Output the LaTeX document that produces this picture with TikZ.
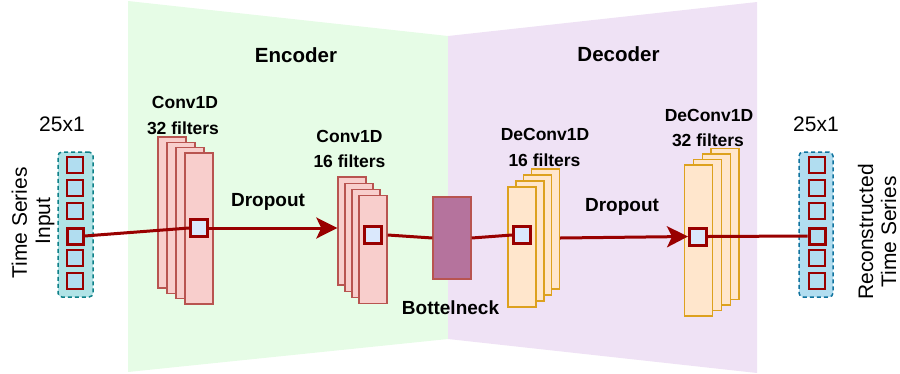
\documentclass[tikz,border=0pt]{standalone}
\usepackage{fontspec}
\setmainfont{Liberation Sans}
\usetikzlibrary{arrows.meta,calc}
\definecolor{encbg}{HTML}{E6FCE6}
\definecolor{decbg}{HTML}{EFE2F5}
\definecolor{convfill}{HTML}{F8CECC}
\definecolor{convline}{HTML}{B85450}
\definecolor{dcfill}{HTML}{FFE6CC}
\definecolor{dcline}{HTML}{DDA11E}
\definecolor{bnfill}{HTML}{B5739D}
\definecolor{darkred}{HTML}{990000}
\definecolor{cellfill}{HTML}{DAE8FC}
\definecolor{colfillin}{HTML}{B0E3E6}
\definecolor{collinein}{HTML}{0E8088}
\definecolor{colfillout}{HTML}{B1DDF0}
\definecolor{collineout}{HTML}{10739E}
\definecolor{colcell}{HTML}{B1DDF0}
\begin{document}
\begin{tikzpicture}[x=1pt,y=-1pt,
  convbox/.style={draw=convline, fill=convfill, line width=1.4pt, minimum width=28pt, inner sep=0pt},
  dcbox/.style={draw=dcline, fill=dcfill, line width=1.4pt, minimum width=28pt, inner sep=0pt},
  stackcell/.style={draw=darkred, fill=cellfill, line width=3pt, minimum width=17pt, minimum height=17pt, inner sep=0pt},
  colcellbox/.style={draw=darkred, fill=colcell, line width=1.5pt, minimum width=16pt, minimum height=16pt, inner sep=0pt},
  colthick/.style={draw=darkred, fill=colcell, line width=3pt, minimum width=16pt, minimum height=16pt, inner sep=0pt},
  link/.style={draw=darkred, line width=3pt},
  arrowlink/.style={link, -{Stealth[length=21pt,width=21pt,inset=5pt]}},
  lbl/.style={inner sep=0pt, anchor=base, font=\fontsize{21}{25}\selectfont},
  blbl/.style={inner sep=0pt, anchor=base, font=\fontsize{17.5}{20}\selectfont\bfseries},
  mlbl/.style={inner sep=0pt, anchor=base, font=\fontsize{19}{22}\selectfont\bfseries},
  tlbl/.style={inner sep=0pt, anchor=base, font=\fontsize{20.5}{24}\selectfont\bfseries},
  rlbl/.style={lbl, rotate=90}]
\useasboundingbox (0,0) rectangle (900,373);
% backgrounds
\fill[encbg] (128,1) -- (448,36) -- (448,339) -- (128,372) -- cycle;
\fill[decbg] (448,36) -- (757,2) -- (757,373) -- (448,339) -- cycle;
\node[tlbl] (enc) at (296,62) {Encoder};
\node[tlbl] (dec) at (618.5,61) {Decoder};
% input column
\node[draw=collinein, fill=colfillin, line width=1.5pt, dash pattern=on 4pt off 3pt, rounded corners=4pt, minimum width=35pt, minimum height=145pt, inner sep=0pt] (incol) at (75.5,224.5) {};
\node[colcellbox] (in1) at (75,165) {};
\node[colcellbox] (in2) at (75,188) {};
\node[colcellbox] (in3) at (75,211) {};
\node[colthick] (in4) at (75,236) {};
\node[colcellbox] (in5) at (75,258) {};
\node[colcellbox] (in6) at (75,281) {};
% output column
\node[draw=collineout, fill=colfillout, line width=1.5pt, dash pattern=on 4pt off 3pt, rounded corners=4pt, minimum width=34pt, minimum height=145pt, inner sep=0pt] (outcol) at (816,224.5) {};
\node[colcellbox] (out1) at (817,165) {};
\node[colcellbox] (out2) at (817,188) {};
\node[colcellbox] (out3) at (817,211) {};
\node[colthick] (out4) at (817,236) {};
\node[colcellbox] (out5) at (817,258) {};
\node[colcellbox] (out6) at (817,281) {};
% labels
\node[lbl] (dimin) at (62,131) {25x1};
\node[lbl] (dimout) at (816,131) {25x1};
\node[rlbl] (ts1) at (27,223) {Time Series};
\node[rlbl] (ts2) at (50,221) {Input};
\node[rlbl] (rc1) at (873,232) {Reconstructed};
\node[rlbl] (rc2) at (896,232) {Time Series};
% conv1 stack
\node[convbox, minimum height=151pt] (c1a) at (172,212.5) {};
\node[convbox, minimum height=151pt] (c1b) at (181,217.8) {};
\node[convbox, minimum height=151pt] (c1c) at (190,223.1) {};
\node[convbox, minimum height=151pt] (c1d) at (199,228.5) {};
\node[blbl] (c1t1) at (185,108) {Conv1D};
\node[blbl] (c1t2) at (183,134) {32 filters};
% conv2 stack
\node[convbox, minimum height=108pt] (c2a) at (352,231) {};
\node[convbox, minimum height=108pt] (c2b) at (359,237.2) {};
\node[convbox, minimum height=108pt] (c2c) at (366,243.4) {};
\node[convbox, minimum height=108pt] (c2d) at (373,249.6) {};
\node[blbl] (c2t1) at (349.5,142) {Conv1D};
\node[blbl] (c2t2) at (349.5,167) {16 filters};
% bottleneck
\node[draw=convline, fill=bnfill, line width=1.4pt, minimum width=38pt, minimum height=82pt, inner sep=0pt] (bn) at (452,238) {};
\node[mlbl] (bnt) at (450.5,314) {Bottelneck};
% deconv16 stack
\node[dcbox, minimum height=120pt] (d1a) at (545.5,229) {};
\node[dcbox, minimum height=120pt] (d1b) at (537.7,235) {};
\node[dcbox, minimum height=120pt] (d1c) at (529.8,241) {};
\node[dcbox, minimum height=120pt] (d1d) at (522,247) {};
\node[blbl] (d1t1) at (545,140) {DeConv1D};
\node[blbl] (d1t2) at (544.5,166) {16 filters};
% deconv32 stack
\node[dcbox, minimum height=151pt] (d2a) at (725,224) {};
\node[dcbox, minimum height=151pt] (d2b) at (716.2,229.5) {};
\node[dcbox, minimum height=151pt] (d2c) at (707.3,235) {};
\node[dcbox, minimum height=151pt] (d2d) at (698.5,240.5) {};
\node[blbl] (d2t1) at (709,121) {DeConv1D};
\node[blbl] (d2t2) at (708,146) {32 filters};
% dropout labels
\node[mlbl] (dp1) at (268,206) {Dropout};
\node[mlbl] (dp2) at (622,211) {Dropout};
% cells in stacks
\node[stackcell] (k1) at (199,228) {};
\node[stackcell] (k2) at (373,235) {};
\node[stackcell] (k3) at (522,235) {};
\node[stackcell] (k4) at (698,236.5) {};
% connectors
\draw[link] (in4.east) -- (k1.west);
\draw[arrowlink] (k1.east) -- (k1.east -| c2a.west);
\draw[link] (c2d.east |- k2.east) -- (bn.west);
\draw[link] (bn.east) -- (k3.west);
\draw[arrowlink] (d1a.east |- bn.east) -- (k4.west);
\draw[link] (k4.east) -- (out4.west);
% redraw cells on top of line ends
\node[stackcell] at (k1) {};
\node[stackcell] at (k4) {};
\end{tikzpicture}
\end{document}
